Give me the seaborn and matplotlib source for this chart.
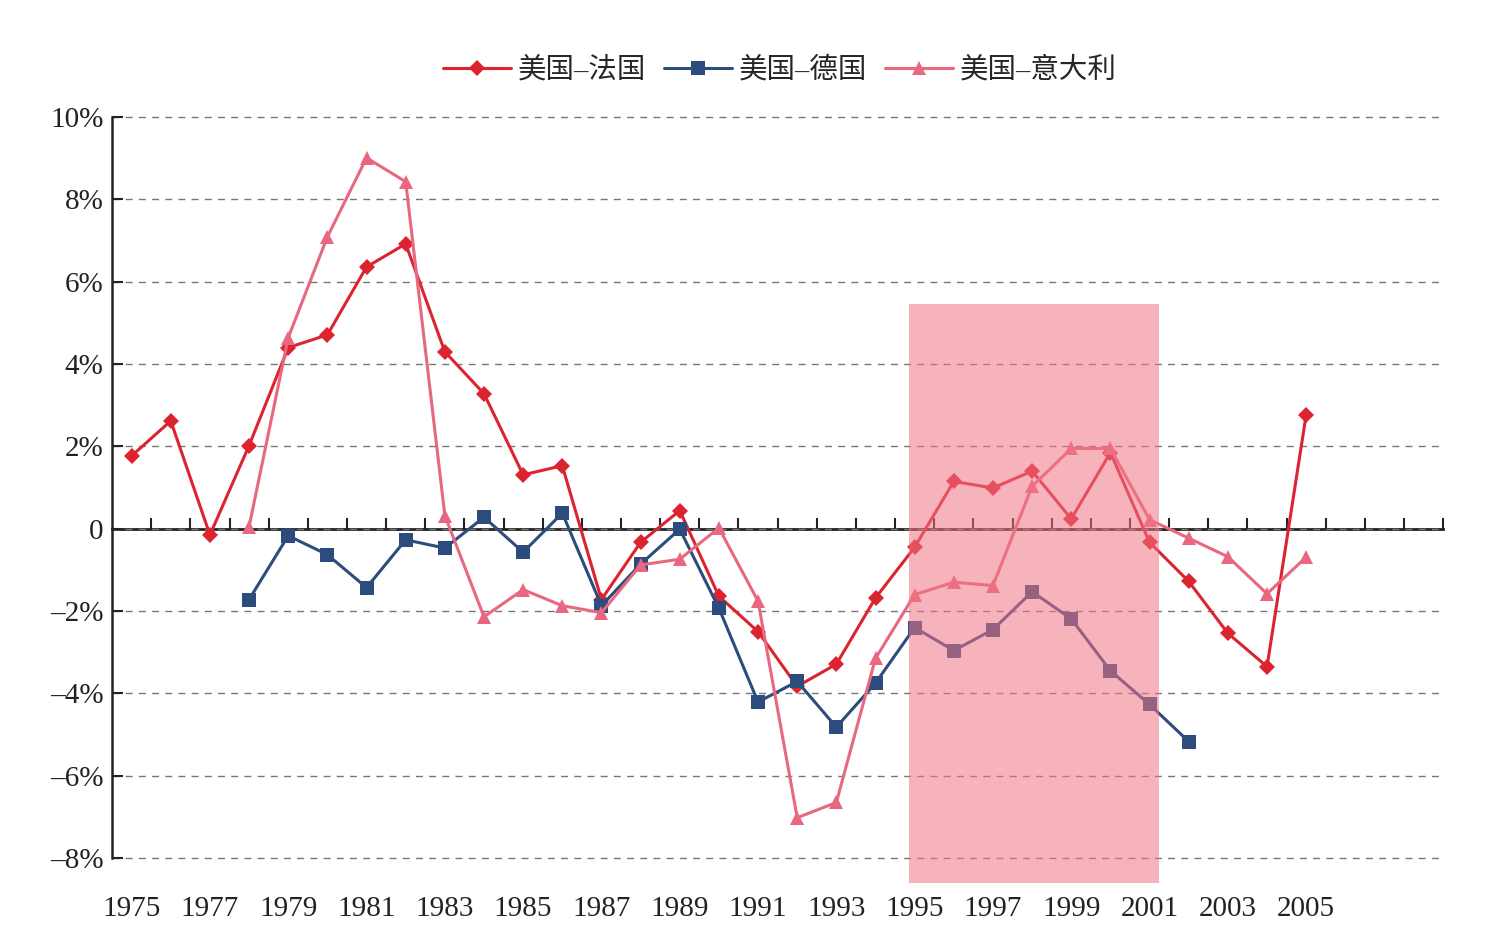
import pandas as pd
import numpy as np
import matplotlib.pyplot as plt
import seaborn as sns
from matplotlib.patches import Rectangle

years = list(range(1975, 2006))

# 美国-法国, 1975-2005
fr = [1.77, 2.62, -0.15, 2.02, 4.40, 4.71, 6.36, 6.92, 4.30, 3.28,
      1.31, 1.53, -1.72, -0.33, 0.44, -1.64, -2.50, -3.83, -3.29, -1.68,
      -0.45, 1.15, 0.99, 1.40, 0.24, 1.85, -0.33, -1.28, -2.54, -3.35, 2.77]
# 美国-德国, 1978-2002
de = [-1.72, -0.17, -0.63, -1.43, -0.27, -0.47, 0.28, -0.57, 0.38,
      -1.87, -0.86, -0.01, -1.93, -4.21, -3.71, -4.82, -3.75,
      -2.40, -2.96, -2.45, -1.53, -2.19, -3.45, -4.27, -5.17]
# 美国-意大利, 1978-2005
it = [0.05, 4.64, 7.09, 9.01, 8.43, 0.32, -2.14, -1.48, -1.87,
      -2.04, -0.88, -0.74, 0.02, -1.76, -7.02, -6.65, -3.15,
      -1.60, -1.30, -1.38, 1.03, 1.95, 1.95, 0.22, -0.23, -0.68, -1.58, -0.69]

labels = ['美国–法国', '美国–德国', '美国–意大利']
colors = ['#DC2430', '#2C4C7E', '#E8687F']
markers = ['D', 's', '^']
msizes = [8, 10.5, 10.5]

rows = []
for y, v in zip(years, fr):
    rows.append((y, v, labels[0]))
for y, v in zip(range(1978, 2003), de):
    rows.append((y, v, labels[1]))
for y, v in zip(range(1978, 2006), it):
    rows.append((y, v, labels[2]))
df = pd.DataFrame(rows, columns=['year', 'value', 'pair'])

sns.set_theme(style='white')
plt.rcParams['font.family'] = ['Liberation Serif', 'Noto Sans CJK SC']
plt.rcParams['axes.unicode_minus'] = False

fig = plt.figure(figsize=(14.94, 9.52), dpi=100)
ax = fig.add_axes([0.075, 0.0987, 0.891, 0.7783])

for lab, c, m, ms in zip(labels, colors, markers, msizes):
    sns.lineplot(data=df[df['pair'] == lab], x='year', y='value', ax=ax,
                 color=c, marker=m, markersize=ms, markeredgewidth=0,
                 linewidth=2.2, label=lab, zorder=3)

# shaded period
ax.add_patch(Rectangle((1994.85, -8.6), 6.4, 14.06, facecolor='#F07585',
                       alpha=0.55, edgecolor='none', zorder=4, clip_on=False))

ax.set_xlim(1974.5, 2008.5)
ax.set_ylim(-8, 10)
ax.set_xticks(range(1975, 2006, 2))
ax.set_yticks(range(-8, 11, 2))
ax.set_yticklabels(['0' if v == 0 else f'{v}%'.replace('-', '\u2013')
                    for v in range(-8, 11, 2)])
ax.tick_params(axis='x', length=0, pad=27, labelsize=21, colors='#222222')
ax.tick_params(axis='y', direction='in', length=8, width=1.5, pad=6,
               labelsize=21, colors='#222222', left=True)
ax.set_xlabel('')
ax.set_ylabel('')
for s in ['top', 'right', 'bottom']:
    ax.spines[s].set_visible(False)
ax.spines['left'].set_color('#222222')
ax.spines['left'].set_linewidth(1.8)
ax.yaxis.grid(True, color='#777777', linestyle=(0, (5, 4.5)), linewidth=1)
for gl in ax.get_ygridlines():
    gl.set_clip_on(False)
ax.set_axisbelow(True)

# zero line with ticks between years
sec = ax.secondary_xaxis(8 / 18)
sec.set_xticks(np.arange(1975.5, 2009, 1))
sec.set_xticklabels([])
sec.tick_params(direction='in', length=8, width=1.5, color='#222222')
sec.spines['bottom'].set_color('#222222')
sec.spines['bottom'].set_linewidth(2)

ax.legend_.remove()
handles, labs = ax.get_legend_handles_labels()
fig.legend(handles, labs, loc='center', bbox_to_anchor=(0.522, 0.926), ncol=3,
           frameon=False, fontsize=20.5, handlelength=2.4, columnspacing=0.6,
           handletextpad=0.25)

fig.savefig('out.png', dpi=100)
